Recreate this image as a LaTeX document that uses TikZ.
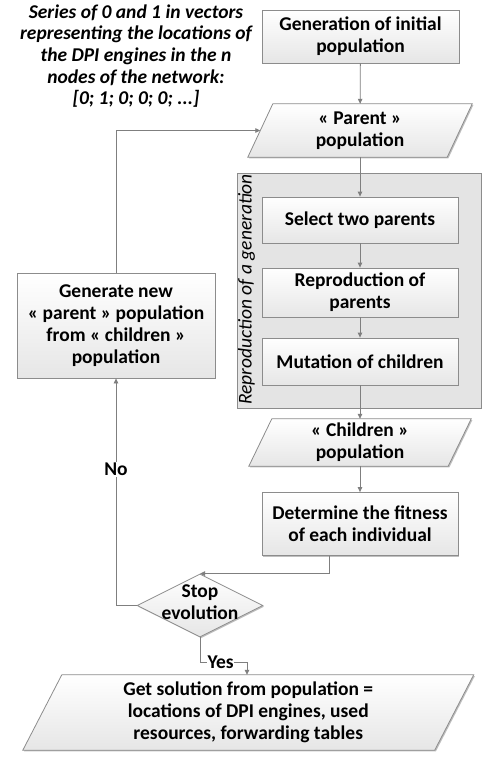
\documentclass[tikz,border=0pt]{standalone}
\usepackage{fontspec}
\setmainfont{Carlito}
\usetikzlibrary{shapes.geometric,arrows.meta,shadows,calc}
\pgfdeclarelayer{back}
\pgfdeclarelayer{background}
\pgfsetlayers{back,background,main}
\definecolor{edgegray}{HTML}{8C8C8C}
\definecolor{linegray}{HTML}{7F7F7F}
\definecolor{boxbot}{HTML}{E6E6E6}
\definecolor{contfill}{HTML}{E4E4E4}
\tikzset{
  txt/.style={font=\fontsize{19.5}{22}\selectfont\bfseries, align=center, text=black},
  boxshade/.style={draw=edgegray, line width=0.8pt, top color=white, bottom color=boxbot,
    drop shadow={shadow xshift=1.2pt, shadow yshift=-1.2pt, opacity=0.25, fill=black}},
  procbox/.style={txt, rectangle, boxshade, inner sep=1pt},
  paratext/.style={txt, rectangle, inner sep=0pt},
  arr/.style={draw=linegray, line width=0.8pt, -{Triangle[length=5pt,width=4.5pt]}},
}
\newcommand\drawpara[2]{%
  \begin{pgfonlayer}{background}
  \path[boxshade] ($(#1.north west)+(#2,0)$) -- ($(#1.north east)+(#2,0)$)
     -- ($(#1.south east)-(#2,0)$) -- ($(#1.south west)-(#2,0)$) -- cycle;
  \end{pgfonlayer}}
\begin{document}
\begin{tikzpicture}[x=1pt,y=-1pt]
\begin{pgfonlayer}{back}
  \fill[white] (0,0) rectangle (484,757);
  \node[draw=edgegray, line width=0.8pt, fill=contfill, minimum width=244pt, minimum height=235pt, inner sep=0pt] (repro) at (359,290.5) {};
\end{pgfonlayer}
\path[use as bounding box] (0,0) rectangle (484,757);

\node[font=\fontsize{19.5}{22}\selectfont\itshape, rotate=90, anchor=west, inner sep=0pt] (reprolbl) at (246.5,405) {Reproduction of a generation};

\node[txt, font=\fontsize{19.5}{21.7}\selectfont\bfseries\itshape] (note) at (136,56)
  {Series of 0 and 1 in vectors\\representing the locations of\\the DPI engines in the n\\nodes of the network:\\{}[0; 1; 0; 0; 0; ...]};

\node[procbox, minimum width=197pt, minimum height=53pt] (gen) at (360.5,36.5) {Generation of initial\\population};

\node[paratext, minimum width=199pt, minimum height=53pt] (parent) at (360,130.5) {« Parent »\\population};
\drawpara{parent}{12.5}

\node[procbox, minimum width=196pt, minimum height=46pt] (select) at (360,220) {Select two parents};
\node[procbox, minimum width=196pt, minimum height=49pt] (reprod) at (360,292.5) {Reproduction of\\parents};
\node[procbox, minimum width=196pt, minimum height=47pt] (mutation) at (360,361.5) {Mutation of children};

\node[paratext, minimum width=199pt, minimum height=47pt] (children) at (360,442.5) {« Children »\\population};
\drawpara{children}{11.5}

\node[procbox, minimum width=196pt, minimum height=63pt] (fitness) at (360,524) {Determine the fitness\\of each individual};

\node[diamond, boxshade, minimum width=126pt, minimum height=63pt, inner sep=0pt] (stop) at (200,605.5) {};
\node[txt, inner sep=0pt] (stoptxt) at (200,602) {Stop\\evolution};

\node[procbox, minimum width=198pt, minimum height=105pt] (gennew) at (116,325.5)
  {Generate new\\« parent » population\\from « children »\\population};

\node[paratext, minimum width=411.5pt, minimum height=75pt] (solution) at (248.25,712.5)
  {Get solution from population =\\locations of DPI engines, used\\resources, forwarding tables};
\drawpara{solution}{19.5}

\coordinate (yesc) at (247,662);

\draw[arr] (gen) -- (parent);
\draw[arr] (parent) -- (select);
\draw[arr] (select) -- (reprod);
\draw[arr] (reprod) -- (mutation);
\draw[arr] (mutation) -- (children);
\draw[arr] (children) -- (fitness);
\draw[arr] ([xshift=-31pt]fitness.south) |- (stop.north);
\draw[arr] (stop.west) -| (gennew.south) node[pos=0.8, txt, fill=white, inner sep=1pt] {No};
\draw[arr] (gennew.north) |- (parent.west);
\draw[arr] (stop.south) |- (yesc) node[pos=0.72, txt, fill=white, inner sep=0.5pt] {Yes} -- (yesc |- solution.north);
\end{tikzpicture}
\end{document}
